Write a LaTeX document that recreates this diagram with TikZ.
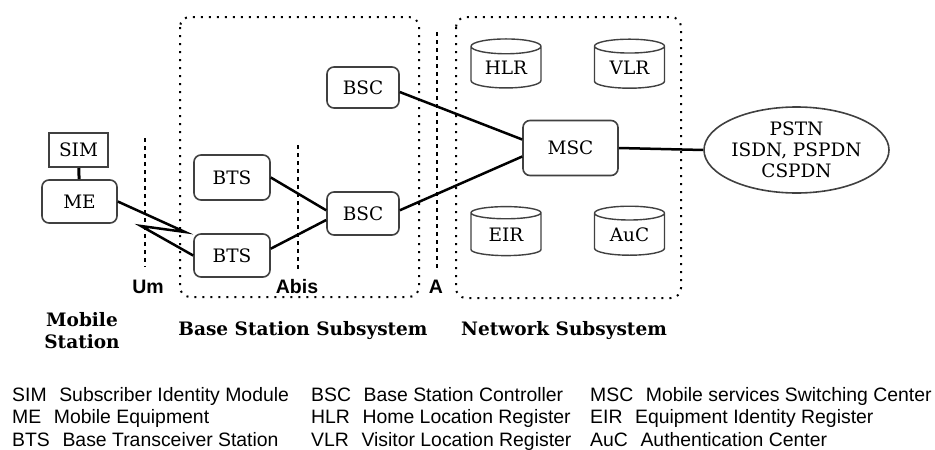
\documentclass[tikz,border=0pt]{standalone}
\usepackage{fontspec}
\setmainfont{DejaVu Serif}
\setsansfont{Liberation Sans}
\usetikzlibrary{positioning}
\usetikzlibrary{shapes.geometric}
\newcommand{\unitfont}{\fontsize{18.5}{21}\selectfont}
\newcommand{\partfont}{\fontsize{18.5}{22}\selectfont\bfseries}
\newcommand{\ifacefont}{\fontsize{19.5}{22}\selectfont\sffamily\bfseries}
\newcommand{\keyfont}{\fontsize{19.4}{22}\selectfont\sffamily}
\newcommand{\keyentry}[4]{
\node[anchor=base west, font=\keyfont, inner sep=0pt] (#1) at (#2) {#3\hspace{0.65em}#4};
}
\tikzset{
  unit/.style={draw=black!75, line width=1.6pt, rounded corners=7pt, fill=white,
    font=\unitfont, inner sep=0pt},
  card/.style={draw=black!75, line width=2pt, fill=white, font=\unitfont, inner sep=0pt},
  store/.style={cylinder, shape border rotate=90, aspect=0.35, draw=black!75,
    line width=1.4pt, font=\unitfont, inner sep=0pt},
  frame/.style={line width=2pt, dash pattern=on 2pt off 6pt, rounded corners=10pt},
  iface/.style={line width=2.2pt, dash pattern=on 4pt off 4pt},
  link/.style={line width=2.5pt}
}
\begin{document}
\begin{tikzpicture}[x=1pt, y=-1pt]
\useasboundingbox (0,0) rectangle (935,450);

% subsystem frames
\draw[frame] (180,17) rectangle (419,297);
\draw[frame] (456,17) rectangle (681,298);

% interfaces
\draw[iface] (145,138) -- (145,267);
\draw[iface] (298,145) -- (298,270);
\draw[iface] (437,32) -- (437,270);

% mobile station
\node[card, minimum width=59pt, minimum height=34pt] (sim) at (78.5,150) {SIM};
\node[unit, minimum width=75pt, minimum height=43pt] (me) at (79.5,201.5) {ME};

% base station subsystem
\node[unit, minimum width=76pt, minimum height=45pt] (bts1) at (232,177.5) {BTS};
\node[unit, minimum width=76pt, minimum height=43pt] (bts2) at (232,255.5) {BTS};
\node[unit, minimum width=72pt, minimum height=41pt] (bsc1) at (363,87.5) {BSC};
\node[unit, minimum width=72pt, minimum height=43pt] (bsc2) at (363,213.5) {BSC};

% network subsystem
\node[unit, minimum width=95pt, minimum height=55pt] (msc) at (570.5,148) {MSC};
\node[store, minimum width=70pt, minimum height=49pt] (hlr) at (506,67.5) {HLR};
\node[store, minimum width=70pt, minimum height=49pt] (vlr) at (629.5,67.5) {VLR};
\node[store, minimum width=70pt, minimum height=49pt] (eir) at (506,234.5) {EIR};
\node[store, minimum width=70pt, minimum height=49pt] (auc) at (629.5,234.5) {AuC};

\node[ellipse, draw=black!75, line width=1.6pt, minimum width=185pt, minimum height=86pt,
  align=center, font=\unitfont, inner sep=0pt] (pstn) at (796.5,150)
  {PSTN\\ISDN, PSPDN\\CSPDN};

% radio link
\coordinate (bolta) at (185,232);
\coordinate (boltb) at (141,226);

\draw[line width=3pt] (sim) -- (me);
\draw[link] (me.east) -- (bolta) -- (boltb) -- (bts2.west);
\draw[link] (bts1.east) -- (bsc2.175);
\draw[link] (bts2.10) -- (bsc2.190);
\draw[link] (bsc1.-7) -- (msc.170);
\draw[link] (bsc2.5) -- (msc.190);
\draw[link] (msc.east) -- (pstn.west);

% labels
\node[font=\ifacefont] (um) at (148,287) {Um};
\node[font=\ifacefont] (abis) at (297,287) {Abis};
\node[font=\ifacefont] (a) at (436,287) {A};
\node[font=\partfont, align=center] (ms) at (82,331) {Mobile\\Station};
\node[font=\partfont] (bss) at (303,331) {Base Station Subsystem};
\node[font=\partfont] (nss) at (564,331) {Network Subsystem};

% key
\keyentry{ksim}{12,401}{SIM}{Subscriber Identity Module}
\keyentry{kme}{12,423.5}{ME}{Mobile Equipment}
\keyentry{kbts}{12,446}{BTS}{Base Transceiver Station}
\keyentry{kbsc}{311,401}{BSC}{Base Station Controller}
\keyentry{khlr}{311,423.5}{HLR}{Home Location Register}
\keyentry{kvlr}{311,446}{VLR}{Visitor Location Register}
\keyentry{kmsc}{590,401}{MSC}{Mobile services Switching Center}
\keyentry{keir}{590,423.5}{EIR}{Equipment Identity Register}
\keyentry{kauc}{590,446}{AuC}{Authentication Center}
\end{tikzpicture}
\end{document}
